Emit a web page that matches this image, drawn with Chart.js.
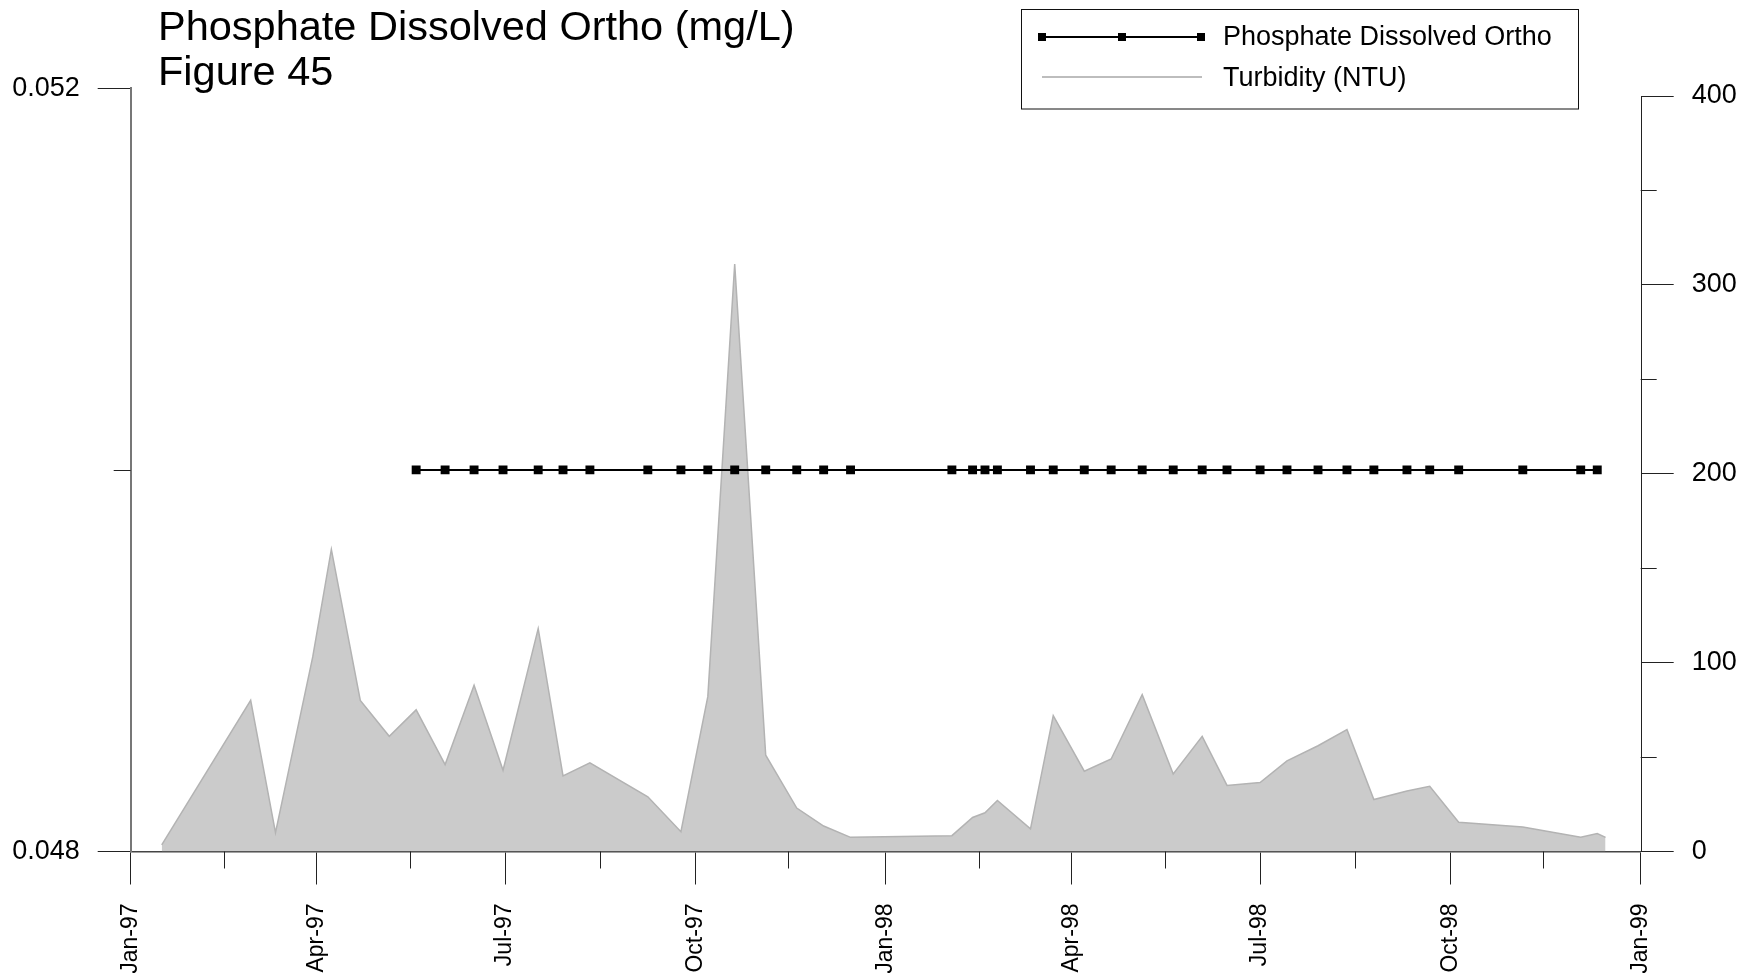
<!DOCTYPE html>
<html>
<head>
<meta charset="utf-8">
<script src="https://cdn.jsdelivr.net/npm/chart.js@4.4.1/dist/chart.umd.min.js"></script>
<style>
  html, body { margin: 0; padding: 0; background: #fff; }
  #wrap { width: 1743px; height: 973px; position: relative; }
  canvas { display: block; }
</style>
</head>
<body>
<div id="wrap"><canvas id="c" width="1743" height="973"></canvas></div>
<script>
// ---------- DATA ----------
const titleLines = ['Phosphate Dissolved Ortho (mg/L)', 'Figure 45'];

const turbidityDates = [
  '1997-01-16','1997-02-28','1997-03-12','1997-03-30','1997-04-08','1997-04-22',
  '1997-05-06','1997-05-19','1997-06-02','1997-06-16','1997-06-30','1997-07-17',
  '1997-07-29','1997-08-11','1997-09-08','1997-09-24','1997-10-07','1997-10-20',
  '1997-11-04','1997-11-19','1997-12-02','1997-12-15',
  '1998-02-02','1998-02-12','1998-02-18','1998-02-24','1998-03-12','1998-03-23',
  '1998-04-07','1998-04-20','1998-05-05','1998-05-20','1998-06-03','1998-06-15',
  '1998-07-01','1998-07-14','1998-07-29','1998-08-12','1998-08-25','1998-09-10',
  '1998-09-21','1998-10-05','1998-11-05','1998-12-03','1998-12-11','1998-12-15'
];
const turbidityValues = [
  3.5, 80, 10, 103, 160, 80,
  61, 75, 46, 88, 43, 118,
  40, 47, 29, 10.5, 82, 311,
  51, 23, 13.5, 7.5,
  8.4, 18, 20.5, 27, 12, 72,
  42.5, 49, 83, 41, 61, 35,
  36.5, 48, 56, 64.5, 27.5, 32,
  34.5, 15.5, 13, 7.5, 9.5, 7.5
];

const phosphateDates = [
  '1997-05-19','1997-06-02','1997-06-16','1997-06-30','1997-07-17','1997-07-29',
  '1997-08-11','1997-09-08','1997-09-24','1997-10-07','1997-10-20','1997-11-04',
  '1997-11-19','1997-12-02','1997-12-15',
  '1998-02-02','1998-02-12','1998-02-18','1998-02-24','1998-03-12','1998-03-23',
  '1998-04-07','1998-04-20','1998-05-05','1998-05-20','1998-06-03','1998-06-15',
  '1998-07-01','1998-07-14','1998-07-29','1998-08-12','1998-08-25','1998-09-10',
  '1998-09-21','1998-10-05','1998-11-05','1998-12-03','1998-12-11'
];
const phosphateValues = [
  0.05,0.05,0.05,0.05,0.05,0.05,0.05,0.05,0.05,0.05,0.05,0.05,0.05,0.05,0.05,
  0.05,0.05,0.05,0.05,0.05,0.05,0.05,0.05,0.05,0.05,0.05,0.05,0.05,0.05,0.05,
  0.05,0.05,0.05,0.05,0.05,0.05,0.05,0.05
];

const xTickDates = ['1997-01-01','1997-04-01','1997-07-01','1997-10-01','1998-01-01',
                    '1998-04-01','1998-07-01','1998-10-01','1999-01-01'];
const xTickLabels = ['Jan-97','Apr-97','Jul-97','Oct-97','Jan-98','Apr-98','Jul-98','Oct-98','Jan-99'];
const xMinorDates = ['1997-02-15','1997-05-16','1997-08-16','1997-11-15',
                     '1998-02-15','1998-05-16','1998-08-16','1998-11-15'];

const leftTicks = [0.048, 0.052];
const leftMinorTicks = [0.050];
const rightTicks = [0, 100, 200, 300, 400];
const rightMinorTicks = [50, 150, 250, 350];

// ---------- HELPERS ----------
const BASE = Date.UTC(1997, 0, 1);
function dayOf(s) {
  const [y, m, d] = s.split('-').map(Number);
  return (Date.UTC(y, m - 1, d) - BASE) / 86400000;
}
const xTickDays = xTickDates.map(dayOf);
const xMinorDays = xMinorDates.map(dayOf);

const turbidityData = turbidityDates.map((d, i) => ({ x: dayOf(d), y: turbidityValues[i] }));
const phosphateData = phosphateDates.map((d, i) => ({ x: dayOf(d), y: phosphateValues[i] }));

Chart.defaults.font.family = "'Liberation Sans', Arial, Helvetica, sans-serif";
Chart.defaults.color = '#000';

const FONT = "'Liberation Sans', Arial, Helvetica, sans-serif";

const decorPlugin = {
  id: 'decor',
  afterDraw(chart) {
    const ctx = chart.ctx;
    const ca = chart.chartArea;
    const xs = chart.scales.x, yL = chart.scales.yL, yR = chart.scales.yR;
    ctx.save();
    // minor x ticks
    ctx.strokeStyle = '#222';
    ctx.lineWidth = 1;
    xMinorDays.forEach(v => {
      const px = Math.round(xs.getPixelForValue(v)) + 0.5;
      ctx.beginPath(); ctx.moveTo(px, ca.bottom); ctx.lineTo(px, ca.bottom + 17); ctx.stroke();
    });
    // left minor
    leftMinorTicks.forEach(v => {
      const py = Math.round(yL.getPixelForValue(v)) + 0.5;
      ctx.beginPath(); ctx.moveTo(ca.left - 17, py); ctx.lineTo(ca.left, py); ctx.stroke();
    });
    // right minor
    rightMinorTicks.forEach(v => {
      const py = Math.round(yR.getPixelForValue(v)) + 0.5;
      ctx.beginPath(); ctx.moveTo(ca.right, py); ctx.lineTo(ca.right + 16, py); ctx.stroke();
    });
    // right axis line from 400 to 0
    const rx = Math.round(ca.right) + 0.5;
    ctx.beginPath();
    ctx.moveTo(rx, yR.getPixelForValue(rightTicks[rightTicks.length - 1]));
    ctx.lineTo(rx, yR.getPixelForValue(0));
    ctx.stroke();

    // title
    ctx.fillStyle = '#000';
    ctx.font = '41.5px ' + FONT;
    ctx.textAlign = 'left';
    ctx.textBaseline = 'alphabetic';
    ctx.fillText(titleLines[0], 158, 40);
    ctx.fillText(titleLines[1], 158, 85);

    // legend
    ctx.strokeStyle = '#111';
    ctx.lineWidth = 1;
    ctx.strokeRect(1021.5, 9.5, 557, 99.5);
    const ds = chart.data.datasets;
    // phosphate sample
    ctx.strokeStyle = '#000';
    ctx.lineWidth = 2;
    ctx.beginPath(); ctx.moveTo(1042, 37); ctx.lineTo(1201, 37); ctx.stroke();
    ctx.fillStyle = '#000';
    [1042, 1122, 1201].forEach(px => ctx.fillRect(px - 4, 33, 8, 8));
    // turbidity sample
    ctx.strokeStyle = '#bdbdbd';
    ctx.lineWidth = 2;
    ctx.beginPath(); ctx.moveTo(1042, 77); ctx.lineTo(1202, 77); ctx.stroke();
    ctx.fillStyle = '#000';
    ctx.font = '27px ' + FONT;
    ctx.fillText(ds[0].label, 1223, 45);
    ctx.fillText(ds[1].label, 1223, 86);
    ctx.restore();
  }
};

new Chart(document.getElementById('c'), {
  type: 'line',
  data: {
    datasets: [
      {
        label: 'Phosphate Dissolved Ortho',
        data: phosphateData,
        yAxisID: 'yL',
        borderColor: '#000',
        borderWidth: 2,
        pointStyle: 'rect',
        pointRadius: 6.3,
        pointBackgroundColor: '#000',
        pointBorderWidth: 0,
        fill: false,
        tension: 0,
        order: 0
      },
      {
        label: 'Turbidity (NTU)',
        data: turbidityData,
        yAxisID: 'yR',
        borderColor: '#b3b3b3',
        borderWidth: 1.5,
        backgroundColor: '#cbcbcb',
        pointRadius: 0,
        fill: 'origin',
        tension: 0,
        order: 1
      }
    ]
  },
  options: {
    responsive: false,
    animation: false,
    devicePixelRatio: 1,
    layout: { padding: { top: 88.3, left: 0, right: 0, bottom: 0 } },
    plugins: { legend: { display: false }, tooltip: { enabled: false }, title: { display: false } },
    scales: {
      x: {
        type: 'linear',
        position: 'bottom',
        min: 0,
        max: xTickDays[xTickDays.length - 1],
        afterFit: s => { s.height = 121.5; },
        afterBuildTicks: s => { s.ticks = xTickDays.map(v => ({ value: v })); },
        grid: { drawOnChartArea: false, drawTicks: true, tickLength: 33, tickColor: '#222', tickWidth: 1 },
        border: { display: true, color: '#444', width: 1.5 },
        ticks: {
          autoSkip: false,
          minRotation: 90,
          maxRotation: 90,
          padding: 19,
          font: { size: 23 },
          color: '#000',
          callback: (v, i) => xTickLabels[i]
        }
      },
      yL: {
        type: 'linear',
        position: 'left',
        min: leftTicks[0],
        max: leftTicks[leftTicks.length - 1],
        afterFit: s => { s.width = 130.7; },
        afterBuildTicks: s => { s.ticks = leftTicks.map(v => ({ value: v })); },
        grid: { drawOnChartArea: false, drawTicks: true, tickLength: 33, tickColor: '#222', tickWidth: 1 },
        border: { display: true, color: '#777', width: 2 },
        ticks: {
          padding: 18,
          font: { size: 27 },
          color: '#000',
          callback: v => Number(v).toFixed(3)
        }
      },
      yR: {
        type: 'linear',
        position: 'right',
        min: 0,
        max: 404.1,
        afterFit: s => { s.width = 102.3; },
        afterBuildTicks: s => { s.ticks = rightTicks.map(v => ({ value: v })); },
        grid: { drawOnChartArea: false, drawTicks: true, tickLength: 33, tickColor: '#222', tickWidth: 1 },
        border: { display: false },
        ticks: {
          padding: 18,
          font: { size: 27 },
          color: '#000',
          callback: v => String(v)
        }
      }
    }
  },
  plugins: [decorPlugin]
});
</script>
</body>
</html>
